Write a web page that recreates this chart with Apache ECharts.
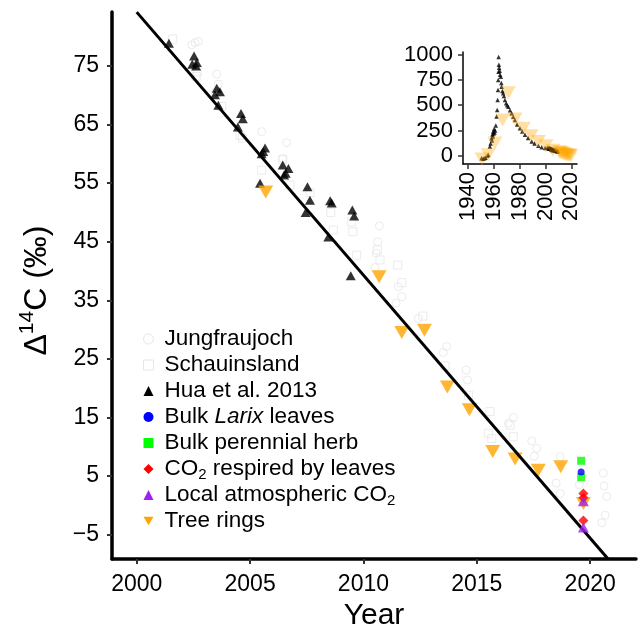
<!DOCTYPE html>
<html><head><meta charset="utf-8">
<script src="https://cdn.jsdelivr.net/npm/echarts@6/dist/echarts.min.js"></script>
<style>html,body{margin:0;padding:0;background:#fff}#c{width:638px;height:626px}</style>
</head><body><div id="c"></div>
<script>
// ---- tick labels ----
const xTicks = [2000, 2005, 2010, 2015, 2020];
const yTicks = [-5, 5, 15, 25, 35, 45, 55, 65, 75];
const insetXTicks = [1940, 1960, 1980, 2000, 2020];
const insetYTicks = [0, 250, 500, 750, 1000];

// ---- main panel data: [year, Δ14C ‰] ----
const jungfraujoch = [[2002.43,78.6],[2002.57,79.0],[2002.72,79.2],[2003.53,73.6],[2003.6,71.9],[2005.51,63.8],[2006.62,61.9],[2006.44,59.2],[2010.7,47.7],[2010.63,45.0],[2010.56,43.0],[2010.51,40.6],[2011.54,37.3],[2011.69,35.6],[2011.44,34.5],[2012.42,31.9],[2013.67,27.1],[2013.52,26.1],[2014.53,23.1],[2014.59,21.4],[2016.61,15.0],[2016.39,14.0],[2017.42,11.0],[2017.64,9.7],[2017.53,8.4],[2018.5,3.8],[2018.67,2.0],[2018.67,8.3],[2019.52,3.5],[2020.58,5.5],[2020.61,3.3],[2020.73,1.5],[2020.66,-1.7],[2020.51,-3.0]];
const schauinsland = [[2001.59,79.6],[2002.67,74.0],[2002.62,73.2],[2003.5,70.4],[2003.75,68.1],[2004.56,63.2],[2004.66,62.7],[2005.51,57.2],[2006.44,59.0],[2006.76,54.7],[2007.64,53.4],[2008.56,50.0],[2008.67,47.0],[2009.48,48.4],[2009.53,46.7],[2009.7,42.7],[2010.61,43.6],[2010.73,41.9],[2011.51,41.0],[2011.69,38.0],[2012.62,32.3],[2013.6,23.8],[2014.63,18.8],[2015.58,16.0],[2015.51,12.3],[2016.47,13.7],[2016.61,11.7],[2015.66,11.4]];
const hua2013 = [[2001.42,78.9],[2002.53,76.7],[2002.45,75.3],[2002.65,75.6],[2002.62,75.0],[2003.53,71.2],[2003.67,70.6],[2003.45,70.1],[2003.6,68.3],[2004.6,66.9],[2004.68,66.0],[2004.46,64.6],[2005.66,61.0],[2005.58,60.4],[2005.51,60.0],[2006.44,58.1],[2006.69,57.5],[2006.57,56.7],[2006.5,56.4],[2005.44,55.0],[2007.53,54.4],[2007.64,52.1],[2008.53,52.0],[2008.6,51.6],[2007.45,50.0],[2008.45,45.8],[2009.51,50.4],[2009.59,49.4],[2009.44,39.2]];
const larixLeaves = [[2019.6,5.7]];
const perennialHerb = [[2019.6,7.6],[2019.6,4.8]];
const respiredCO2 = [[2019.7,2.0],[2019.7,1.3],[2019.7,-2.6]];
const localCO2 = [[2019.7,0.7],[2019.7,-3.8]];
const treeRings = [[2005.69,53.5],[2010.69,39.0],[2011.69,29.5],[2012.69,29.9],[2013.7,20.2],[2014.67,16.3],[2015.7,9.2],[2016.69,7.9],[2017.71,6.0],[2018.7,6.6],[2019.7,0.3]];
const fitLine = [[2000.0,84.2],[2020.8,-9.2]];

// ---- inset data (long record) ----
const insetHua = [[1950.5,-25],[1951.7,-30],[1952.5,-25],[1953.5,-20],[1955.0,0],[1955.6,10],[1956.9,92],[1957.5,120],[1958.2,174],[1958.5,150],[1958.9,210],[1959.2,190],[1959.5,240],[1959.8,220],[1960.2,265],[1960.5,230],[1961.0,250],[1961.5,300],[1962.1,387],[1962.6,453],[1962.9,551],[1963.2,650],[1963.4,748],[1963.6,830],[1963.7,977],[1963.9,900],[1964.1,870],[1964.5,840],[1964.8,800],[1965.4,780],[1965.8,720],[1966.0,682],[1966.6,640],[1967.2,617],[1967.8,590],[1968.6,551],[1969.5,520],[1970.3,500],[1971.2,485],[1972.5,450],[1973.8,420],[1975.0,385],[1976.3,354],[1978.0,310],[1980.2,272],[1982.0,240],[1984.1,207],[1986.5,175],[1989.3,141],[1991.5,120],[1994.5,98],[1997.0,85],[1999.7,76]];
const insetTreeRings = [[1950.9,-33],[1955.6,10],[1960.8,125],[1966.8,354],[1971.2,623],[1976.4,364],[1982.8,272],[1988.8,197],[1994.5,141],[2000.3,98]];

const FONT = 'Liberation Sans, Arial, Helvetica, sans-serif';
const downTri = 'path://M0,0L2,0L1,1.732Z';
const faint = '#e6e6e6';

const chart = echarts.init(document.getElementById('c'), null, {renderer:'canvas'});

const legendLabel = {
  'Bulk Larix leaves': 'Bulk {i|Larix} leaves',
  'CO2 respired by leaves': 'CO{s|2} respired by leaves',
  'Local atmospheric CO2': 'Local atmospheric CO{s|2}'
};
const plain = v => (v < 0 ? '\u2212' + Math.abs(v) : String(v));

const option = {
  backgroundColor: '#fff',
  animation: false,
  textStyle: {fontFamily: FONT},
  grid: [
    {left: 112, right: 2, top: 12, bottom: 67, outerBoundsMode: 'none', containLabel: false},
    {left: 463, top: 52, width: 114, height: 112, outerBoundsMode: 'none', containLabel: false}
  ],
  xAxis: [
    {
      gridIndex: 0, type: 'value', min: 1998.91, max: 2022.02,
      splitLine: {show: false},
      axisLine: {onZero: false, lineStyle: {color: '#000', width: 3.5}},
      axisTick: {customValues: xTicks, length: 5, lineStyle: {color: '#333', width: 2}},
      axisLabel: {customValues: xTicks, fontSize: 23, color: '#000', margin: 14, fontFamily: FONT, formatter: plain},
      name: 'Year', nameLocation: 'middle', nameGap: 36,
      nameTextStyle: {fontSize: 30, color: '#000', fontFamily: FONT}
    },
    {
      gridIndex: 1, type: 'value', min: 1936.1, max: 2024.4,
      splitLine: {show: false},
      axisLine: {onZero: false, lineStyle: {color: '#000', width: 1.5}},
      axisTick: {customValues: insetXTicks, length: 5, lineStyle: {color: '#333', width: 1.5}},
      axisLabel: {customValues: insetXTicks, rotate: 90, fontSize: 22, color: '#000', margin: 8, fontFamily: FONT, formatter: plain}
    }
  ],
  yAxis: [
    {
      gridIndex: 0, type: 'value', min: -9.17, max: 84.22,
      splitLine: {show: false},
      axisLine: {onZero: false, lineStyle: {color: '#000', width: 3.5}},
      axisTick: {customValues: yTicks, length: 5, lineStyle: {color: '#333', width: 2}},
      axisLabel: {customValues: yTicks, fontSize: 23, color: '#000', margin: 13, fontFamily: FONT, formatter: plain},
      name: '{a|\u0394}{s|14}{a|C (\u2030)}', nameLocation: 'middle', nameGap: 54, nameRotate: 90,
      nameTextStyle: {fontFamily: FONT, color: '#000', padding: [0, 10, 0, 0],
        rich: {a: {fontSize: 32, lineHeight: 41, fontFamily: FONT, color: '#000'},
               s: {fontSize: 21, lineHeight: 21, verticalAlign: 'top', fontFamily: FONT, color: '#000'}}}
    },
    {
      gridIndex: 1, type: 'value', min: -81.6, max: 1025.6,
      splitLine: {show: false},
      axisLine: {onZero: false, lineStyle: {color: '#000', width: 1.5}},
      axisTick: {customValues: insetYTicks, length: 5, lineStyle: {color: '#333', width: 1.5}},
      axisLabel: {customValues: insetYTicks, fontSize: 22, color: '#000', margin: 10, fontFamily: FONT, formatter: plain}
    }
  ],
  legend: {
    orient: 'vertical', left: 138, top: 321, itemGap: 0,
    itemWidth: 10, itemHeight: 10,
    data: [
      {name: 'Jungfraujoch', icon: 'circle', itemStyle: {color: '#fff', borderColor: faint, borderWidth: 1, opacity: 1}},
      {name: 'Schauinsland', icon: 'rect', itemStyle: {color: '#fff', borderColor: faint, borderWidth: 1, opacity: 1}},
      {name: 'Hua et al. 2013', icon: 'triangle', itemStyle: {color: '#000', opacity: 1}},
      {name: 'Bulk Larix leaves', icon: 'circle', itemStyle: {color: '#0000FF', opacity: 1}},
      {name: 'Bulk perennial herb', icon: 'rect', itemStyle: {color: '#00FF00', opacity: 1}},
      {name: 'CO2 respired by leaves', icon: 'diamond', itemStyle: {color: '#FF0000', opacity: 1}},
      {name: 'Local atmospheric CO2', icon: 'triangle', itemStyle: {color: '#A020F0', opacity: 1}},
      {name: 'Tree rings', icon: downTri, itemStyle: {color: '#FFA500', opacity: 1}}
    ],
    formatter: n => legendLabel[n] || n,
    textStyle: {fontSize: 22.5, lineHeight: 26, color: '#000', fontFamily: FONT, padding: [0, 0, 0, 6],
      rich: {i: {fontSize: 22.5, lineHeight: 26, fontStyle: 'italic', fontFamily: FONT, color: '#000'},
             s: {fontSize: 15, lineHeight: 15, verticalAlign: 'bottom', fontFamily: FONT, color: '#000'}}}
  },
  series: [
    {name: 'Jungfraujoch', type: 'scatter', data: jungfraujoch, symbol: 'circle', symbolSize: 8,
      itemStyle: {color: 'rgba(255,255,255,0)', borderColor: faint, borderWidth: 1}, z: 1},
    {name: 'Schauinsland', type: 'scatter', data: schauinsland, symbol: 'rect', symbolSize: 8,
      itemStyle: {color: 'rgba(255,255,255,0)', borderColor: faint, borderWidth: 1}, z: 1},
    {name: 'Hua et al. 2013', type: 'scatter', data: hua2013, symbol: 'triangle', symbolSize: [10, 9],
      itemStyle: {color: '#000'}, z: 2},
    {name: 'Tree rings', type: 'scatter', data: treeRings, symbol: downTri, symbolSize: [15, 13],
      itemStyle: {color: '#FFA500'}, z: 3},
    {name: 'fit', type: 'line', data: fitLine, symbol: 'none', lineStyle: {color: '#000', width: 3}, z: 4, silent: true},
    {name: 'Bulk perennial herb', type: 'scatter', data: perennialHerb, symbol: 'rect', symbolSize: 8,
      itemStyle: {color: '#00FF00'}, z: 5},
    {name: 'Bulk Larix leaves', type: 'scatter', data: larixLeaves, symbol: 'circle', symbolSize: 7,
      itemStyle: {color: '#0000FF'}, z: 5},
    {name: 'CO2 respired by leaves', type: 'scatter', data: respiredCO2, symbol: 'diamond', symbolSize: 10,
      itemStyle: {color: '#FF0000'}, z: 5},
    {name: 'Local atmospheric CO2', type: 'scatter', data: localCO2, symbol: 'triangle', symbolSize: [11, 10],
      itemStyle: {color: '#A020F0'}, z: 6},
    // inset
    {name: 'inset-hua', type: 'scatter', xAxisIndex: 1, yAxisIndex: 1, data: insetHua.concat(hua2013),
      symbol: 'triangle', symbolSize: 4.5, itemStyle: {color: '#000'}, z: 2},
    {name: 'inset-rings', type: 'scatter', xAxisIndex: 1, yAxisIndex: 1, data: insetTreeRings.concat(treeRings),
      symbol: downTri, symbolSize: [15, 13], itemStyle: {color: 'rgba(255,165,0,0.45)'}, z: 3}
  ]
};
chart.setOption(option);
</script>
</body></html>
